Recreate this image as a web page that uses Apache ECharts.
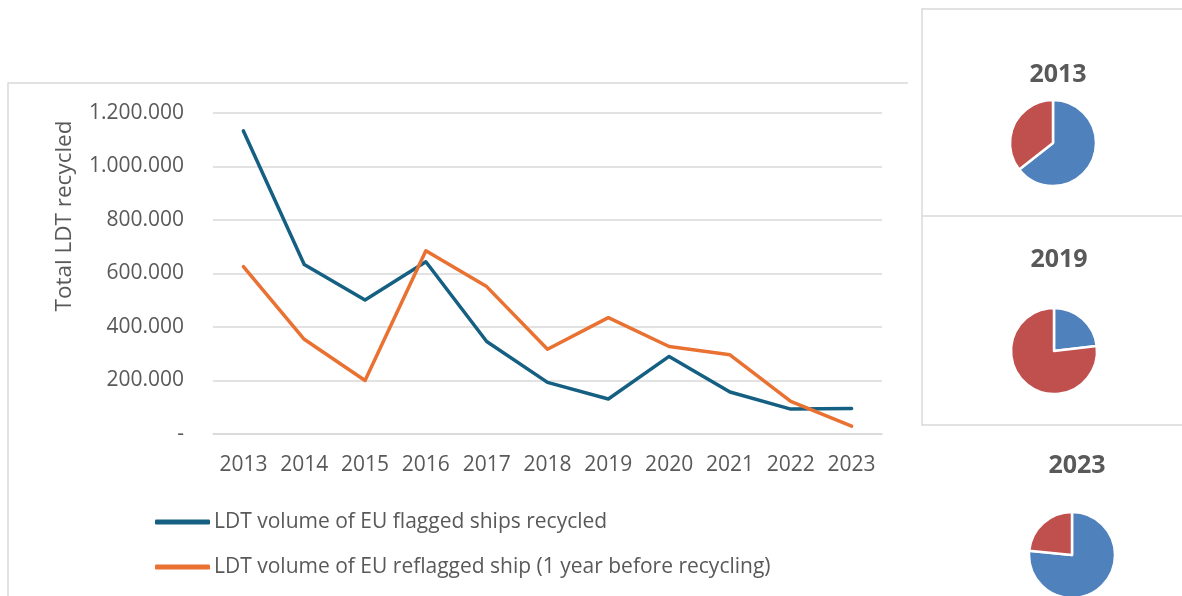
<!DOCTYPE html>
<html>
<head>
<meta charset="utf-8">
<script src="https://cdn.jsdelivr.net/npm/echarts@6/dist/echarts.min.js"></script>
<style>
html,body{margin:0;padding:0;background:#fff;}
#chart{width:1182px;height:596px;}
</style>
</head>
<body>
<div id="chart"></div>
<script>
const years = ['2013','2014','2015','2016','2017','2018','2019','2020','2021','2022','2023'];
const euFlagged = [1133000, 634000, 501000, 644000, 346000, 193000, 131000, 290000, 157000, 93000, 95000];
const euReflagged = [626000, 354000, 200000, 685000, 551000, 317000, 435000, 327000, 296000, 122000, 29000];
const seriesNames = ['LDT volume of EU flagged ships recycled', 'LDT volume of EU reflagged ship (1 year before recycling)'];
const pieYears = ['2013', '2019', '2023'];
const yAxisTitle = 'Total LDT recycled';

const FONT = '"Open Sans", "Liberation Sans", sans-serif';
const TXT = '#595959';
const GRID = '#d9d9d9';
const pieCenters = [[1053, 143], [1054, 351], [1072, 555]];
const pieTitleY = [57, 242, 448];

function fmt(v) {
  if (v === 0) return '-';
  return String(v).replace(/\B(?=(\d{3})+(?!\d))/g, '.');
}

const chart = echarts.init(document.getElementById('chart'));

const pieSeries = pieYears.map((y, i) => {
  const idx = years.indexOf(y);
  return {
    type: 'pie',
    center: pieCenters[i],
    radius: 43,
    startAngle: 90,
    clockwise: true,
    silent: true,
    label: {show: false},
    labelLine: {show: false},
    itemStyle: {borderColor: '#fff', borderWidth: 2.5},
    data: [
      {name: 'flagged', value: euFlagged[idx], itemStyle: {color: '#4F81BD'}},
      {name: 'reflagged', value: euReflagged[idx], itemStyle: {color: '#C0504D'}}
    ]
  };
});

const titles = pieYears.map((y, i) => ({
  text: y,
  left: pieCenters[i][0],
  top: pieTitleY[i],
  textAlign: 'center',
  textStyle: {fontFamily: FONT, fontSize: 25, fontWeight: 'bold', color: TXT}
}));

chart.setOption({
  animation: false,
  backgroundColor: '#fff',
  title: titles,
  graphic: [
    {type: 'polyline', shape: {points: [[8, 596], [8, 83], [908, 83]]}, style: {stroke: GRID, lineWidth: 1.5, fill: null}},
    {type: 'polyline', shape: {points: [[1182, 9], [922, 9], [922, 425], [1182, 425]]}, style: {stroke: GRID, lineWidth: 1.5, fill: null}},
    {type: 'line', shape: {x1: 922, y1: 216, x2: 1182, y2: 216}, style: {stroke: GRID, lineWidth: 1.5}},
    {type: 'text', x: 65, y: 216, rotation: Math.PI / 2,
     style: {text: yAxisTitle, fontFamily: FONT, fontSize: 22.5, fill: TXT, textAlign: 'center', textVerticalAlign: 'middle'}}
  ],
  legend: {
    orient: 'vertical',
    left: 150,
    top: 505,
    itemWidth: 55,
    itemHeight: 5,
    itemGap: 21,
    icon: 'roundRect',
    data: seriesNames,
    textStyle: {fontFamily: FONT, fontSize: 21, color: TXT, lineHeight: 24, padding: [0, 0, 0, -1]}
  },
  grid: {left: 213, right: 300, top: 113, bottom: 162},
  xAxis: {
    type: 'category',
    data: years,
    boundaryGap: true,
    axisLine: {show: true, lineStyle: {color: GRID, width: 1.5}},
    axisTick: {show: false},
    axisLabel: {fontFamily: FONT, fontSize: 21, color: TXT, margin: 21, interval: 0}
  },
  yAxis: {
    type: 'value',
    min: 0,
    max: 1200000,
    interval: 200000,
    axisLine: {show: false},
    axisTick: {show: false},
    splitLine: {lineStyle: {color: GRID, width: 1.5}},
    axisLabel: {fontFamily: FONT, fontSize: 21, color: TXT, margin: 29, formatter: fmt}
  },
  series: [
    {
      name: seriesNames[0], type: 'line', data: euFlagged, symbol: 'none',
      lineStyle: {color: '#156082', width: 3.5, cap: 'round', join: 'round'},
      itemStyle: {color: '#156082'}
    },
    {
      name: seriesNames[1], type: 'line', data: euReflagged, symbol: 'none',
      lineStyle: {color: '#E97132', width: 3.5, cap: 'round', join: 'round'},
      itemStyle: {color: '#E97132'}
    }
  ].concat(pieSeries)
});
</script>
</body>
</html>
